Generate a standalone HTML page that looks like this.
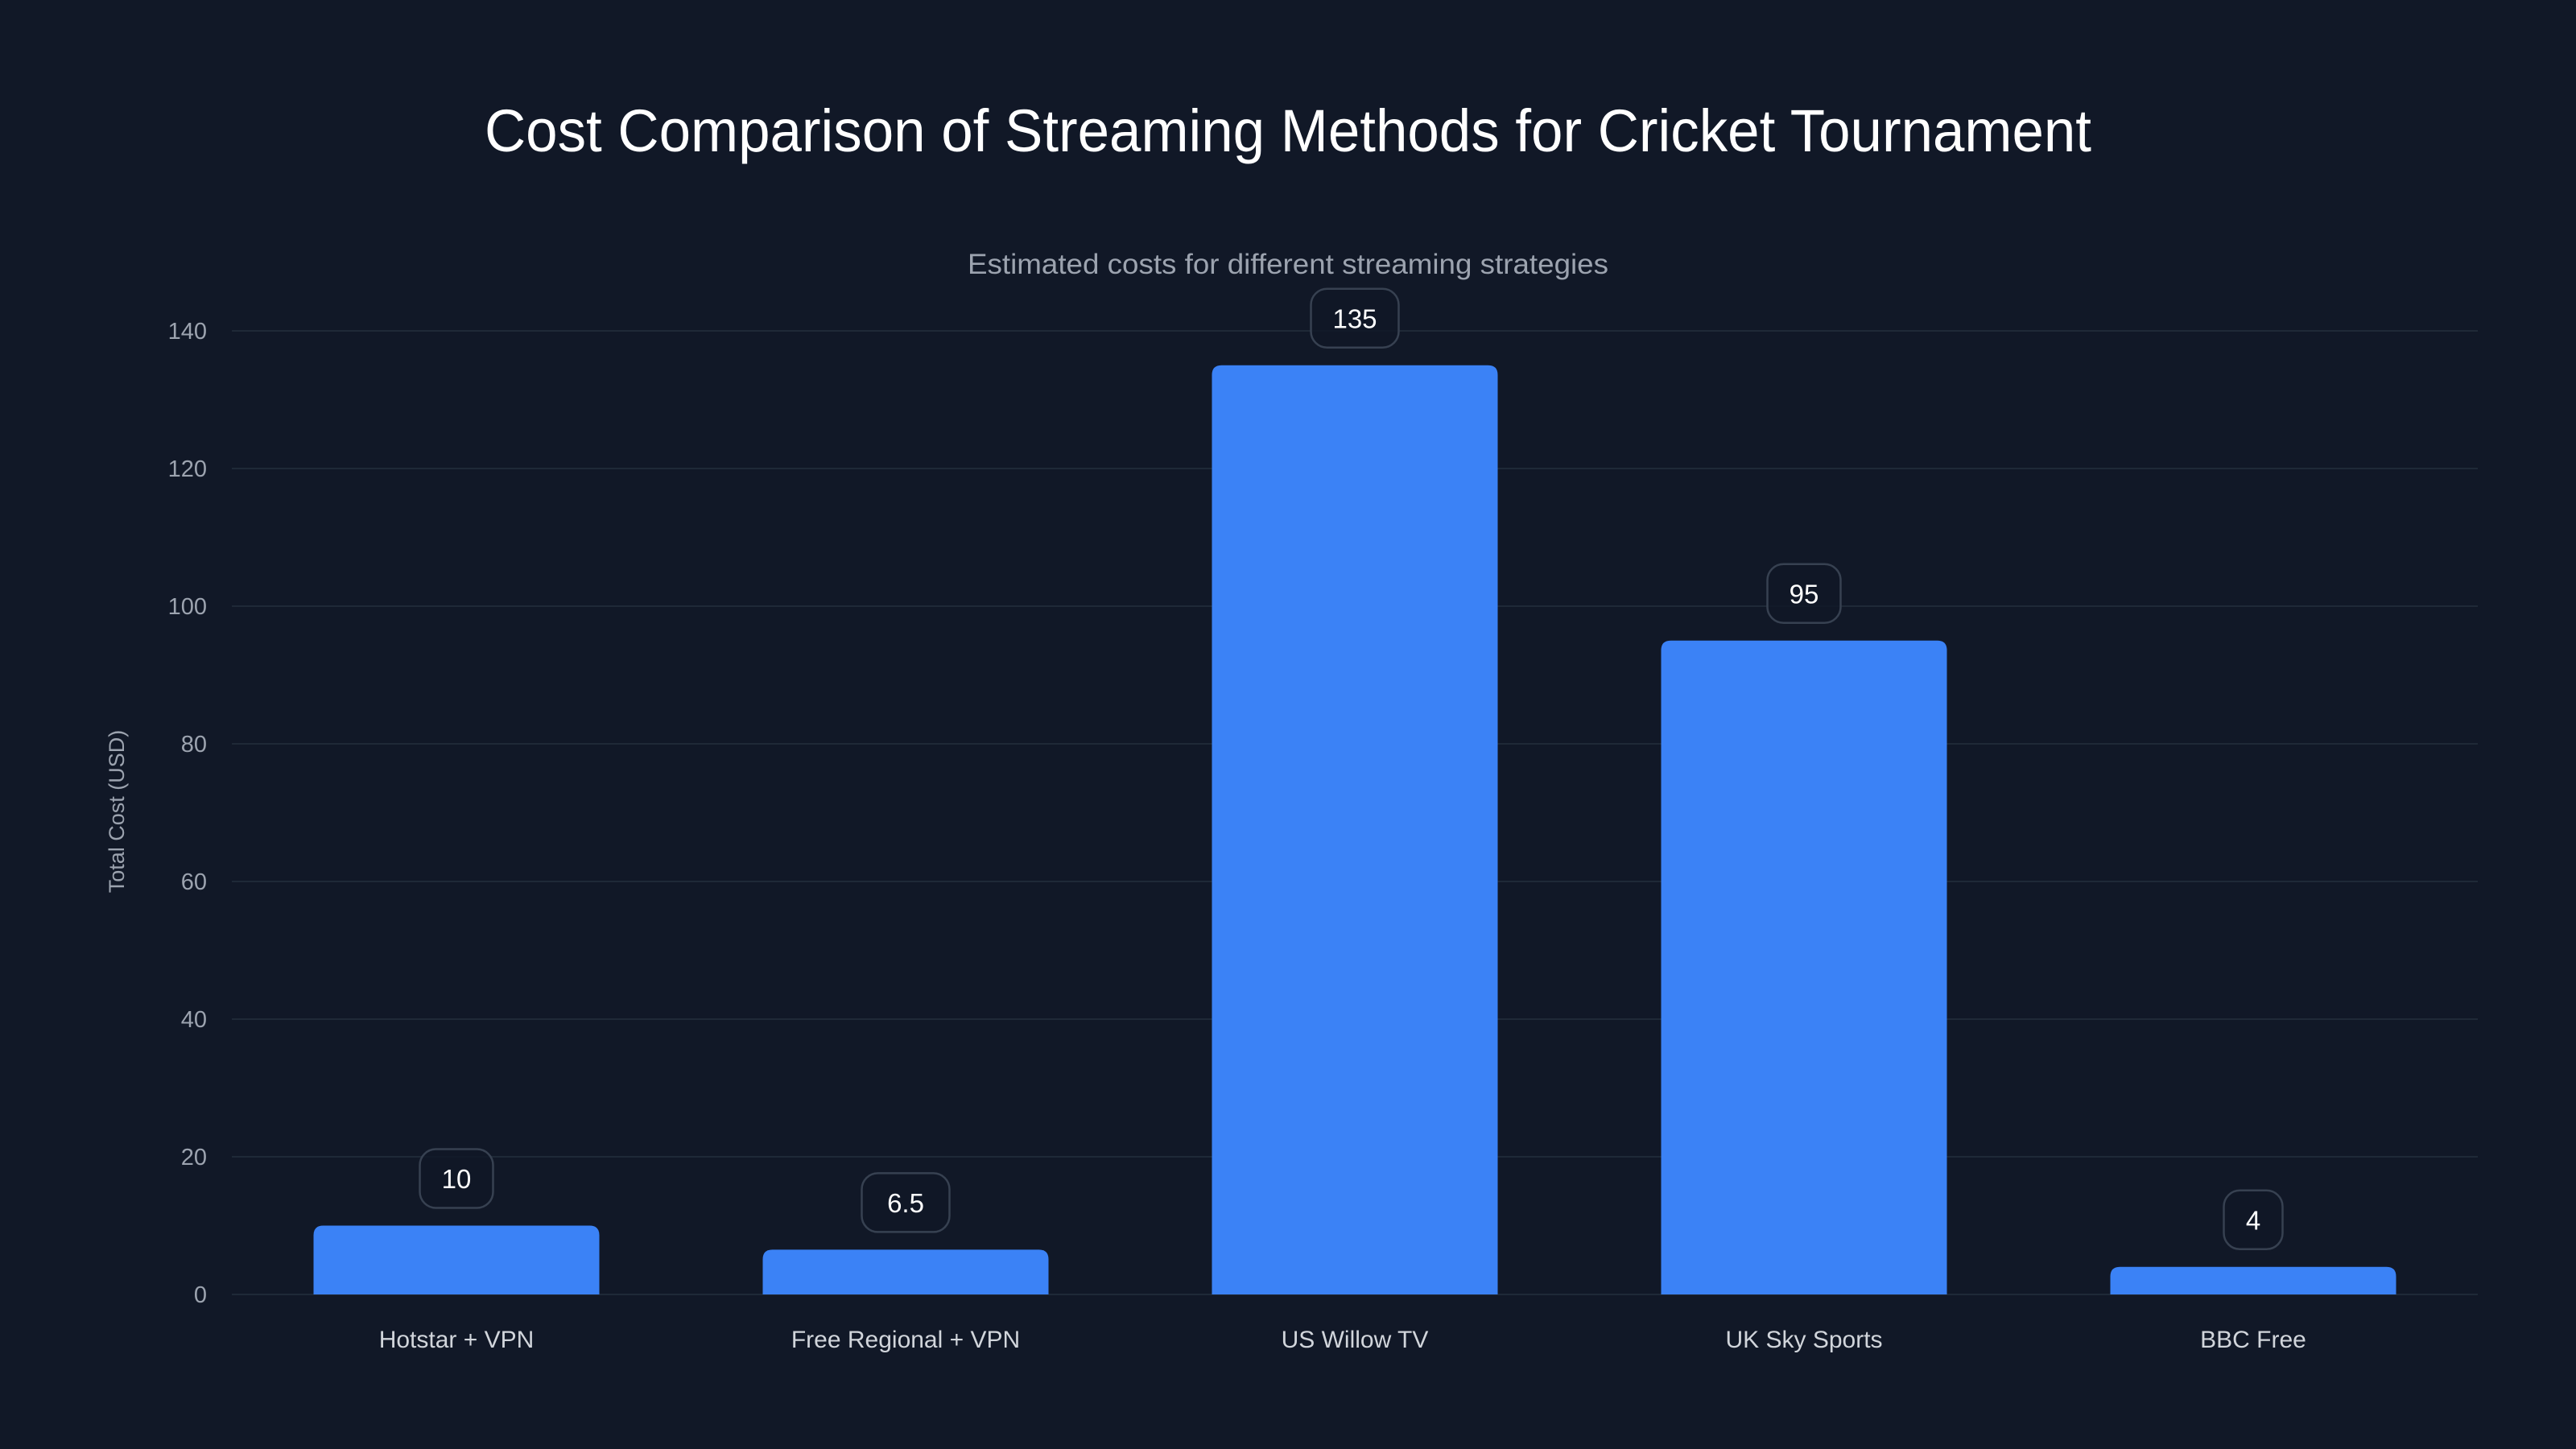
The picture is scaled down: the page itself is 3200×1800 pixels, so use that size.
<!DOCTYPE html>
<html><head><meta charset="utf-8"><style>
html,body{margin:0;padding:0;background:#111827;}
svg{display:block;font-family:"Liberation Sans",sans-serif;}
</style></head><body>
<svg id="chart" width="3200" height="1800" viewBox="0 0 3200 1800" xmlns="http://www.w3.org/2000/svg">
<rect width="3200" height="1800" fill="#111827"/>
<text x="1600" y="188" text-anchor="middle" font-size="74" fill="#ffffff" textLength="1996" lengthAdjust="spacingAndGlyphs">Cost Comparison of Streaming Methods for Cricket Tournament</text>
<text x="1600" y="340" text-anchor="middle" font-size="35" fill="#9ca3af" textLength="796" lengthAdjust="spacingAndGlyphs">Estimated costs for different streaming strategies</text>
<text transform="translate(154,1008) rotate(-90)" text-anchor="middle" font-size="27" fill="#9ca3af">Total Cost (USD)</text>
<g id="grid"></g><g id="bars"></g><g id="labels"></g>
</svg>
<script>
const categories = ["Hotstar + VPN","Free Regional + VPN","US Willow TV","UK Sky Sports","BBC Free"];
const values = [10, 6.5, 135, 95, 4];
const valueLabels = ["10","6.5","135","95","4"];
const yTicks = [0,20,40,60,80,100,120,140];

const NS="http://www.w3.org/2000/svg";
const left=288,right=3078,y0=1608,y140=411;
const y=v=>y0-(v/140)*(y0-y140);
const band=(right-left)/categories.length;
const x=i=>left+band*(i+0.5);
const bw=355;
function mk(t,a,p){const e=document.createElementNS(NS,t);for(const k in a)e.setAttribute(k,a[k]);p.appendChild(e);return e;}
const grid=document.getElementById('grid'),bars=document.getElementById('bars'),labels=document.getElementById('labels');
yTicks.forEach(t=>{
  const l=mk('line',{x1:left,x2:right,y1:y(t),y2:y(t),stroke:'#1f2937','stroke-width':2},grid);
  
  
  const tx=mk('text',{x:257,y:y(t)+10,'text-anchor':'end','font-size':29,fill:'#9ca3af'},grid);
  tx.textContent=t;
  
  
});
categories.forEach((c,i)=>{
  const cx=x(i),top=y(values[i]),h=y0-top,r=Math.min(12,h);
  const p=mk('path',{d:`M${cx-bw/2},${y0} V${top+r} Q${cx-bw/2},${top} ${cx-bw/2+r},${top} H${cx+bw/2-r} Q${cx+bw/2},${top} ${cx+bw/2},${top+r} V${y0} Z`,fill:'#3b82f6'},bars);
  
  
  const w=valueLabels[i].length*18+55,bh=73,by=top-22-bh;
  const box=mk('rect',{x:cx-w/2,y:by,width:w,height:bh,rx:20,fill:'rgba(17,24,39,0.85)',stroke:'#374151','stroke-width':2.5},labels);
  
  
  const vt=mk('text',{x:cx,y:by+bh/2+12,'text-anchor':'middle','font-size':33,fill:'#ffffff'},labels);
  vt.textContent=valueLabels[i];
  
  
  const ct=mk('text',{x:cx,y:1674,'text-anchor':'middle','font-size':30,fill:'#d1d5db'},labels);
  ct.textContent=c;
  
  
});
</script>
</body></html>
